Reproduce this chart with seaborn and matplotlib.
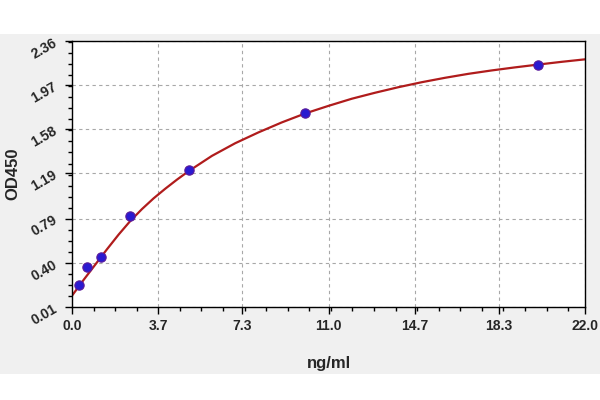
import numpy as np
import pandas as pd
import seaborn as sns
import matplotlib.pyplot as plt
from matplotlib.patches import Rectangle
from matplotlib.ticker import AutoMinorLocator

# standard points
conc = [0.3125, 0.625, 1.25, 2.5, 5.0, 10.0, 20.0]
od = [0.20, 0.36, 0.45, 0.81, 1.22, 1.72, 2.15]

# fitted curve, read at several x positions
curve_x = [0, 0.5, 1.0, 1.5, 2.0, 2.5, 3.0, 3.5, 4.0, 4.5, 5.0, 6.0, 7.0, 8.0,
           9.0, 10.0, 11.0, 12.0, 13.0, 14.0, 15.0, 16.0, 17.0, 18.0, 19.0,
           20.0, 21.0, 22.0]
curve_y = [0.11, 0.25, 0.385, 0.52, 0.65, 0.77, 0.875, 0.97, 1.055, 1.135, 1.21,
           1.345, 1.457, 1.553, 1.641, 1.72, 1.787, 1.85, 1.903, 1.952, 1.996,
           2.035, 2.07, 2.10, 2.127, 2.152, 2.176, 2.198]

x_ticks = [0.0, 3.7, 7.3, 11.0, 14.7, 18.3, 22.0]
y_ticks = [0.01, 0.40, 0.79, 1.19, 1.58, 1.97, 2.36]

pts = pd.DataFrame({"conc": conc, "od": od})
fit = pd.DataFrame({"x": curve_x, "y": curve_y})

sns.set_style("white")
plt.rcParams['font.family'] = ['Liberation Sans', 'DejaVu Sans']

fig = plt.figure(figsize=(6, 4), dpi=100, facecolor="white")
# grey band behind the chart
fig.patches.append(Rectangle((0, 0.065), 1, 0.85, transform=fig.transFigure,
                             facecolor="#f0f0f0", edgecolor="none", zorder=-1))
ax = fig.add_axes([0.12, 0.2325, 0.855, 0.665])
ax.set_facecolor("white")

sns.lineplot(data=fit, x="x", y="y", ax=ax, color="#b01c1c", linewidth=1.6, zorder=2)
sns.scatterplot(data=pts, x="conc", y="od", ax=ax, color="#2a1ad0", edgecolor="#5a1a9a",
                linewidth=0.8, s=45, zorder=3)

ax.set_xlim(0, 22)
ax.set_ylim(0.01, 2.36)
ax.set_xticks(x_ticks)
ax.set_yticks(y_ticks)
ax.set_xticklabels([f"{v:.1f}" for v in x_ticks], fontsize=10, fontweight="bold")
ax.set_yticklabels([f"{v:.2f}" for v in y_ticks], fontsize=10, fontweight="bold", rotation=30)
ax.xaxis.set_minor_locator(AutoMinorLocator(4))
ax.yaxis.set_minor_locator(AutoMinorLocator(4))
ax.tick_params(which="major", direction="out", length=5, width=1, color="black",
               left=True, bottom=True, pad=4)
ax.tick_params(which="minor", direction="out", length=3, width=1, color="black",
               left=True, bottom=True)
ax.grid(True, which="major", linestyle=(0, (3, 3)), color="#a8a8a8", linewidth=0.8)
for s in ax.spines.values():
    s.set_color("black")
    s.set_linewidth(1.0)

ax.set_xlabel("ng/ml", fontsize=12, fontweight="bold", labelpad=16)
ax.set_ylabel("OD450", fontsize=12, fontweight="bold", labelpad=6)

plt.savefig("out.png", dpi=100, facecolor=fig.get_facecolor())
